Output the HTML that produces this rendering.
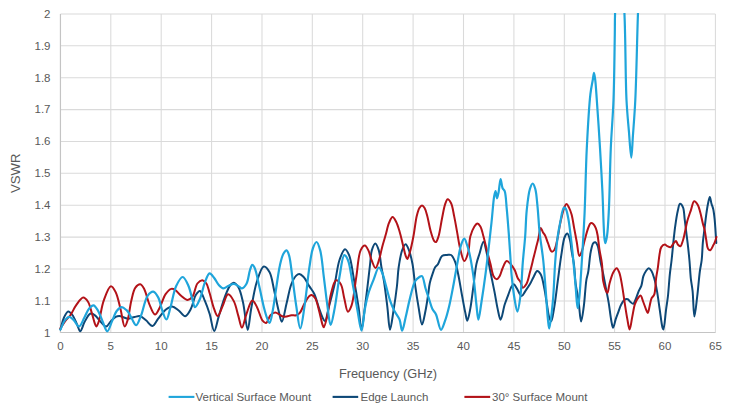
<!DOCTYPE html>
<html><head><meta charset="utf-8"><style>
html,body{margin:0;padding:0;background:#fff;width:739px;height:416px;overflow:hidden}
svg{display:block}
text{font-family:"Liberation Sans",sans-serif;fill:#595959;font-size:11.5px}
.t{font-size:12.8px}
.v{font-size:13.2px}
</style></head><body>
<svg width="739" height="416" viewBox="0 0 739 416">
<rect width="739" height="416" fill="#fff"/>
<g stroke="#DADADA" stroke-width="1.05" fill="none">
<line x1="60.44" y1="300.9" x2="715.4" y2="300.9" />
<line x1="60.44" y1="269.0" x2="715.4" y2="269.0" />
<line x1="60.44" y1="237.1" x2="715.4" y2="237.1" />
<line x1="60.44" y1="205.2" x2="715.4" y2="205.2" />
<line x1="60.44" y1="173.3" x2="715.4" y2="173.3" />
<line x1="60.44" y1="141.5" x2="715.4" y2="141.5" />
<line x1="60.44" y1="109.6" x2="715.4" y2="109.6" />
<line x1="60.44" y1="77.7" x2="715.4" y2="77.7" />
<line x1="60.44" y1="45.8" x2="715.4" y2="45.8" />
<line x1="60.44" y1="13.9" x2="715.4" y2="13.9" />
<line x1="110.8" y1="13.9" x2="110.8" y2="332.8" />
<line x1="161.2" y1="13.9" x2="161.2" y2="332.8" />
<line x1="211.6" y1="13.9" x2="211.6" y2="332.8" />
<line x1="262.0" y1="13.9" x2="262.0" y2="332.8" />
<line x1="312.3" y1="13.9" x2="312.3" y2="332.8" />
<line x1="362.7" y1="13.9" x2="362.7" y2="332.8" />
<line x1="413.1" y1="13.9" x2="413.1" y2="332.8" />
<line x1="463.5" y1="13.9" x2="463.5" y2="332.8" />
<line x1="513.9" y1="13.9" x2="513.9" y2="332.8" />
<line x1="564.3" y1="13.9" x2="564.3" y2="332.8" />
<line x1="614.6" y1="13.9" x2="614.6" y2="332.8" />
<line x1="665.0" y1="13.9" x2="665.0" y2="332.8" />
<line x1="715.4" y1="13.9" x2="715.4" y2="332.8" />
</g>
<g stroke="#C4C4C4" stroke-width="1.2" fill="none">
<line x1="60.44" y1="13.9" x2="60.44" y2="332.8"/>
<line x1="60.44" y1="332.5" x2="715.4" y2="332.5"/>
</g>
<defs><clipPath id="pc"><rect x="57.44" y="13" width="660.96" height="322.8"/></clipPath></defs>
<g fill="none" stroke-width="2.3" stroke-linejoin="round" stroke-linecap="round" clip-path="url(#pc)">
<path d="M60.40,329.50 C61.60,325.50 62.45,320.73 64.00,317.50 C65.19,315.01 66.68,311.60 68.20,311.40 C69.51,311.23 71.11,313.34 72.40,315.00 C74.21,317.33 75.81,321.77 77.20,324.70 C78.34,327.10 79.11,331.29 80.20,331.30 C81.48,331.31 82.87,325.16 84.40,322.30 C85.88,319.54 87.78,315.63 89.20,314.40 C89.87,313.82 90.35,313.58 91.10,313.60 C92.23,313.63 93.95,314.58 95.30,315.60 C96.99,316.88 98.35,319.33 100.10,321.10 C101.94,322.97 104.26,326.60 106.10,326.50 C107.84,326.40 109.25,322.74 110.90,321.10 C112.45,319.56 114.12,317.73 115.70,316.90 C116.91,316.27 118.02,315.96 119.30,316.00 C120.79,316.04 122.58,317.03 124.10,317.50 C125.47,317.92 126.53,318.67 128.00,318.70 C129.89,318.74 132.38,317.42 134.50,317.00 C136.48,316.61 138.46,315.74 140.30,316.20 C142.31,316.70 144.08,318.77 146.00,320.30 C148.14,322.00 150.50,326.19 152.50,326.00 C154.57,325.80 156.16,321.25 158.20,318.70 C160.49,315.84 162.98,311.80 165.60,309.70 C167.67,308.04 169.95,306.31 172.10,306.40 C174.32,306.50 176.57,308.92 178.70,310.50 C180.95,312.16 183.20,316.40 185.20,316.20 C187.28,316.00 189.26,311.80 190.90,308.80 C192.95,305.04 193.84,298.11 195.80,295.00 C197.04,293.04 198.61,290.69 199.90,290.90 C201.68,291.19 203.27,297.15 204.80,300.70 C206.53,304.71 208.12,309.09 209.60,313.80 C211.28,319.13 212.61,331.07 214.20,331.10 C215.69,331.13 217.17,321.36 218.80,316.10 C220.61,310.25 222.48,303.12 224.60,297.60 C226.40,292.93 228.37,287.39 230.40,285.00 C231.50,283.70 232.63,282.59 233.80,282.70 C235.27,282.84 237.08,285.11 238.40,287.30 C240.44,290.69 241.62,296.42 243.00,302.20 C244.85,309.96 246.27,329.90 247.70,329.90 C248.94,329.90 249.72,316.59 251.10,309.20 C252.70,300.62 254.36,289.21 256.90,281.50 C258.84,275.61 261.24,266.96 263.80,266.50 C265.60,266.18 268.03,269.53 269.60,272.30 C271.98,276.51 272.71,284.37 274.20,290.70 C275.78,297.41 277.34,305.79 278.80,311.50 C279.84,315.55 280.71,321.82 281.80,321.80 C283.25,321.78 285.02,309.54 286.60,303.30 C288.22,296.94 289.39,289.01 291.40,284.00 C292.80,280.51 294.52,277.21 296.20,275.60 C297.21,274.64 298.22,273.93 299.30,274.00 C300.59,274.08 302.05,275.39 303.40,276.80 C305.44,278.92 307.50,283.43 309.40,286.40 C311.07,289.01 312.77,290.75 314.20,293.70 C316.09,297.59 317.48,303.80 319.00,308.10 C320.25,311.64 321.38,315.32 322.60,317.70 C323.39,319.25 324.25,321.42 325.00,321.30 C326.34,321.08 327.27,313.16 328.60,308.10 C330.39,301.27 332.88,292.05 334.70,284.00 C336.51,276.01 337.31,266.31 339.50,260.00 C341.04,255.56 343.21,249.32 345.00,249.20 C346.39,249.11 347.91,252.37 349.10,255.20 C351.29,260.40 352.37,270.82 353.90,279.20 C355.58,288.37 357.38,299.16 358.70,308.10 C359.84,315.81 360.48,329.69 361.50,329.70 C362.54,329.71 363.89,314.63 364.90,307.30 C365.88,300.24 366.65,293.57 367.50,286.50 C368.38,279.15 369.31,270.56 370.10,264.00 C370.71,258.90 370.68,254.11 371.80,250.40 C372.65,247.60 374.13,243.40 375.30,243.40 C376.47,243.40 377.87,247.48 378.80,250.40 C380.17,254.68 380.50,261.68 381.40,267.00 C382.24,271.95 383.14,275.81 384.00,281.30 C385.15,288.67 386.37,298.95 387.40,307.30 C388.36,315.04 388.93,329.66 390.00,329.70 C390.99,329.73 392.41,317.43 393.50,310.70 C394.73,303.13 396.01,294.14 396.90,286.50 C397.70,279.66 397.78,273.21 398.70,267.00 C399.56,261.22 400.55,254.49 402.10,250.40 C403.10,247.77 404.45,244.29 405.60,244.30 C406.75,244.31 408.00,247.89 409.00,250.40 C410.42,253.97 411.54,258.95 412.50,264.00 C413.67,270.17 414.11,277.74 415.10,284.80 C416.13,292.16 417.37,300.30 418.60,307.30 C419.68,313.46 420.78,324.57 422.00,324.60 C423.10,324.63 424.50,315.49 425.50,310.70 C426.55,305.67 427.35,299.97 428.10,295.10 C428.76,290.82 428.99,286.66 429.80,283.00 C430.49,279.86 431.49,277.09 432.40,274.40 C433.23,271.96 433.90,269.32 435.00,267.50 C435.86,266.07 437.02,265.56 438.00,264.10 C439.38,262.04 440.15,257.41 442.00,256.00 C443.40,254.93 445.50,255.16 447.10,255.00 C448.51,254.86 449.92,254.32 451.10,255.00 C452.79,255.97 454.08,259.33 455.20,262.10 C456.58,265.52 457.20,269.54 458.20,274.20 C459.54,280.47 460.93,289.58 462.20,296.40 C463.28,302.23 464.32,308.14 465.30,312.60 C466.00,315.77 466.57,320.70 467.30,320.70 C468.20,320.70 469.40,313.27 470.30,308.60 C471.51,302.32 472.38,293.73 473.40,286.30 C474.42,278.89 475.13,270.02 476.40,264.10 C477.27,260.04 478.29,257.52 479.40,254.00 C480.63,250.09 482.27,241.68 483.50,241.70 C484.62,241.72 485.52,247.97 486.50,252.00 C487.86,257.59 489.15,265.47 490.50,272.20 C491.85,278.93 493.36,286.03 494.60,292.40 C495.70,298.09 496.49,303.73 497.60,308.60 C498.53,312.67 499.52,319.70 500.60,319.70 C501.86,319.70 503.34,308.75 504.70,304.50 C505.71,301.35 506.61,299.24 507.70,296.40 C508.92,293.21 510.35,288.30 511.70,286.30 C512.40,285.27 513.08,284.24 513.80,284.30 C514.76,284.39 515.72,286.80 516.80,288.40 C518.25,290.54 520.07,296.03 521.60,296.10 C522.85,296.15 523.94,293.08 525.20,291.30 C526.71,289.16 528.58,286.54 530.00,284.10 C531.37,281.74 532.35,279.17 533.60,276.90 C534.76,274.79 535.89,271.06 537.20,270.90 C538.32,270.76 539.78,272.70 540.80,274.50 C542.54,277.57 543.40,284.08 544.40,288.90 C545.39,293.68 545.98,298.50 546.80,303.30 C547.62,308.10 548.23,314.55 549.30,317.70 C549.87,319.36 550.60,321.38 551.20,321.30 C552.29,321.15 553.18,313.28 554.10,308.10 C555.39,300.83 556.50,290.51 557.70,281.70 C558.90,272.88 560.01,263.19 561.30,255.20 C562.37,248.55 563.11,240.56 564.70,237.00 C565.46,235.29 566.51,233.50 567.30,233.60 C568.28,233.72 569.22,237.23 569.90,239.60 C570.80,242.73 570.96,247.00 571.60,250.90 C572.29,255.11 573.26,259.15 573.90,264.00 C574.69,269.97 574.87,277.88 575.70,284.10 C576.42,289.54 577.57,293.74 578.40,299.30 C579.40,306.01 580.10,321.57 581.10,321.60 C581.93,321.62 583.00,312.19 583.80,306.40 C584.85,298.78 585.38,286.01 586.40,279.80 C586.96,276.40 587.63,275.22 588.20,272.00 C589.11,266.89 589.60,257.30 590.70,252.00 C591.44,248.40 592.07,244.49 593.30,243.10 C593.91,242.41 594.77,242.00 595.40,242.20 C596.25,242.47 596.94,244.02 597.60,245.70 C598.91,249.07 599.58,256.95 600.60,262.00 C601.49,266.42 602.43,270.11 603.30,274.40 C604.23,278.99 605.10,283.94 606.00,288.70 C606.90,293.44 607.86,297.89 608.70,302.90 C609.64,308.49 610.39,316.12 611.30,320.70 C611.88,323.62 612.41,327.78 613.10,327.80 C613.88,327.82 614.87,321.69 615.80,318.90 C616.64,316.39 617.52,314.16 618.40,311.80 C619.28,309.43 619.98,306.81 621.10,304.70 C622.12,302.79 623.36,300.38 624.70,299.60 C625.63,299.06 626.78,298.98 627.70,299.30 C628.74,299.66 629.54,301.23 630.50,302.00 C631.38,302.71 632.39,304.01 633.20,303.80 C634.31,303.51 635.13,300.36 636.00,298.40 C636.98,296.18 637.74,293.34 638.70,291.10 C639.55,289.11 640.67,287.72 641.40,285.60 C642.30,282.97 642.40,279.01 643.30,276.40 C644.03,274.31 644.98,272.45 646.00,271.00 C646.82,269.84 647.79,268.21 648.70,268.20 C649.62,268.19 650.69,269.73 651.50,271.00 C652.64,272.78 653.38,275.49 654.20,278.30 C655.27,281.94 656.15,286.44 657.00,291.10 C658.01,296.62 658.78,303.23 659.70,309.30 C660.62,315.39 661.58,324.72 662.50,327.60 C662.80,328.55 663.10,329.45 663.40,329.40 C664.34,329.24 665.28,315.25 666.10,309.30 C666.75,304.55 667.35,301.34 667.90,296.50 C668.62,290.18 669.11,281.16 669.80,274.60 C670.36,269.24 671.03,265.13 671.60,260.00 C672.24,254.29 672.78,247.71 673.40,241.90 C673.98,236.50 674.47,231.48 675.20,226.30 C675.93,221.12 676.81,214.93 677.80,210.80 C678.48,207.98 678.97,204.01 680.00,203.80 C680.81,203.63 682.25,205.63 683.00,207.30 C684.22,210.01 684.15,215.22 684.70,219.40 C685.29,223.87 685.83,228.68 686.40,233.30 C686.97,237.91 687.58,242.49 688.10,247.10 C688.62,251.72 689.07,256.11 689.50,261.00 C689.98,266.45 690.23,272.98 690.80,278.30 C691.30,282.90 692.07,286.09 692.60,291.10 C693.34,298.14 693.56,316.57 694.40,316.60 C695.15,316.63 696.33,303.61 697.20,296.50 C698.18,288.51 698.99,277.73 699.90,271.00 C700.50,266.56 701.23,264.13 701.70,260.00 C702.30,254.73 702.37,247.52 702.90,241.90 C703.37,236.98 704.03,232.71 704.60,228.10 C705.17,223.48 705.69,218.49 706.30,214.20 C706.83,210.48 707.34,206.89 708.00,203.80 C708.54,201.28 709.22,197.00 709.80,197.00 C710.38,197.00 710.89,201.70 711.50,203.80 C712.04,205.66 712.73,206.97 713.20,209.00 C713.84,211.75 714.17,214.87 714.60,218.90 C715.26,225.17 715.73,234.97 716.30,243.00" stroke="#0D4877" stroke-width="2.0" />
<path d="M60.40,328.30 C62.00,325.90 63.48,323.35 65.20,321.10 C66.86,318.93 68.81,317.37 70.50,315.00 C72.50,312.20 74.02,308.15 76.20,305.20 C78.28,302.38 81.03,297.72 83.20,297.60 C84.90,297.51 86.69,299.85 88.00,301.80 C89.75,304.41 90.51,308.89 91.70,312.60 C92.95,316.51 94.27,322.49 95.30,324.70 C95.73,325.61 96.07,326.54 96.50,326.50 C97.21,326.44 98.08,323.53 98.90,321.10 C100.44,316.51 101.49,306.72 103.70,300.60 C105.63,295.25 108.55,286.45 110.90,286.20 C112.52,286.03 114.31,289.52 115.70,292.20 C117.79,296.25 119.01,303.33 120.50,309.00 C122.01,314.76 123.19,326.36 124.70,326.50 C125.66,326.59 126.80,322.74 127.70,319.90 C129.17,315.23 129.87,306.45 131.30,300.70 C132.50,295.88 133.36,290.34 135.40,287.60 C136.74,285.80 138.84,284.08 140.30,284.30 C141.81,284.52 143.08,286.98 144.30,289.20 C146.21,292.67 147.28,299.46 149.20,303.90 C150.91,307.83 153.08,314.52 155.00,314.60 C156.64,314.67 158.33,310.10 159.90,307.20 C161.90,303.53 163.30,297.31 165.60,294.10 C167.29,291.74 169.44,289.33 171.30,288.90 C172.69,288.58 174.03,289.29 175.40,290.10 C177.29,291.22 179.04,294.15 181.10,295.80 C183.11,297.41 185.60,299.93 187.60,299.90 C189.36,299.87 191.09,298.38 192.50,296.60 C194.67,293.85 195.23,286.22 197.40,283.50 C198.81,281.74 200.76,280.24 202.30,280.30 C203.75,280.36 205.28,281.92 206.40,283.50 C207.95,285.69 208.48,289.40 209.60,293.00 C211.05,297.67 212.55,305.00 214.20,309.20 C215.32,312.05 216.46,316.10 217.70,316.10 C219.13,316.10 220.71,310.23 222.30,306.90 C224.15,303.02 225.92,294.49 228.10,294.20 C229.84,293.97 232.22,298.16 233.80,301.10 C235.89,304.99 236.97,311.43 238.40,316.10 C239.65,320.19 240.63,327.58 241.90,327.60 C243.30,327.62 244.77,318.33 246.50,313.80 C248.23,309.26 250.28,300.61 252.30,300.40 C253.79,300.25 255.43,304.23 256.90,306.90 C258.92,310.56 260.50,318.16 262.60,320.70 C263.71,322.04 264.99,323.27 266.10,323.00 C267.76,322.60 268.86,316.64 270.70,314.90 C272.07,313.60 273.77,312.60 275.30,312.60 C276.83,312.60 278.52,314.20 279.90,314.90 C281.04,315.48 281.89,316.23 283.00,316.50 C284.12,316.77 285.32,316.66 286.60,316.50 C288.10,316.32 289.79,315.50 291.40,315.30 C292.99,315.10 294.77,315.73 296.20,315.30 C297.56,314.89 298.67,314.18 299.80,312.90 C301.58,310.89 302.90,306.22 304.60,303.30 C306.12,300.68 307.90,297.42 309.40,296.10 C310.23,295.37 310.97,294.77 311.80,294.90 C312.94,295.09 314.37,296.77 315.40,298.50 C317.02,301.21 317.85,306.30 319.00,310.50 C320.26,315.07 321.58,322.15 322.60,324.90 C323.03,326.07 323.35,327.34 323.80,327.30 C324.77,327.22 326.33,319.92 327.40,315.30 C328.82,309.19 329.34,299.96 331.00,293.70 C332.34,288.66 333.77,281.03 335.90,280.40 C337.29,279.99 339.43,282.08 340.70,284.00 C342.71,287.03 343.07,293.79 344.30,298.50 C345.47,303.01 346.42,311.50 347.90,311.70 C348.96,311.85 350.44,308.59 351.50,305.70 C353.67,299.79 354.75,286.22 356.30,276.80 C357.78,267.80 358.18,255.52 360.60,250.40 C361.79,247.87 363.58,245.43 364.90,245.50 C366.17,245.56 367.37,248.37 368.40,250.40 C369.78,253.12 370.51,257.60 371.80,260.70 C372.92,263.39 374.33,268.03 375.50,268.00 C376.66,267.97 377.81,263.57 378.80,260.70 C380.12,256.88 381.01,251.34 382.20,246.90 C383.32,242.72 384.55,238.84 385.70,234.80 C386.85,230.77 387.69,225.89 389.10,222.70 C390.12,220.39 391.40,217.15 392.60,217.10 C393.73,217.05 395.06,219.87 396.10,221.80 C397.46,224.34 398.44,227.80 399.50,231.30 C400.77,235.47 401.92,240.90 403.00,245.20 C403.93,248.92 404.68,253.11 405.60,255.60 C406.15,257.08 406.71,259.03 407.30,259.00 C408.12,258.96 409.06,254.90 409.90,252.10 C411.13,247.98 412.32,242.08 413.40,236.50 C414.64,230.10 415.51,221.01 416.80,215.80 C417.61,212.54 418.28,209.82 419.40,208.00 C420.15,206.78 421.13,205.40 422.00,205.40 C422.87,205.40 423.85,206.78 424.60,208.00 C425.72,209.82 426.34,212.73 427.20,215.80 C428.39,220.06 429.39,226.80 430.70,231.30 C431.74,234.89 432.87,239.16 434.10,240.80 C434.68,241.57 435.33,242.25 435.90,242.10 C436.85,241.85 437.70,238.96 438.50,236.50 C439.87,232.26 440.84,224.14 442.00,218.50 C443.04,213.48 443.85,207.77 445.10,204.30 C445.88,202.14 446.68,199.42 447.70,199.30 C448.69,199.19 450.15,201.43 451.10,203.30 C452.61,206.29 453.23,211.79 454.20,216.40 C455.28,221.50 456.20,227.20 457.20,232.60 C458.20,238.00 458.91,243.81 460.20,248.80 C461.34,253.22 462.85,261.03 464.30,261.10 C465.57,261.16 467.32,255.51 468.30,252.00 C469.52,247.61 469.11,241.13 470.30,236.60 C471.30,232.81 472.89,228.78 474.40,226.50 C475.34,225.08 476.40,223.50 477.40,223.50 C478.40,223.50 479.53,225.06 480.40,226.50 C481.77,228.77 482.52,233.06 483.50,236.60 C484.57,240.46 485.41,244.51 486.50,248.80 C487.72,253.62 489.26,259.30 490.50,264.10 C491.60,268.37 492.15,273.60 493.60,276.20 C494.45,277.73 495.60,279.30 496.60,279.30 C497.60,279.30 498.72,277.59 499.60,276.20 C500.84,274.24 501.40,270.74 502.60,268.20 C503.78,265.71 505.14,261.42 506.70,261.10 C507.92,260.85 509.46,262.79 510.70,264.10 C512.20,265.68 513.65,267.95 514.80,270.20 C516.05,272.64 516.66,276.24 517.80,278.30 C518.60,279.75 519.63,280.34 520.40,281.70 C521.35,283.37 521.71,287.48 522.80,287.70 C523.77,287.90 525.37,285.83 526.40,284.10 C528.02,281.39 528.85,276.30 530.00,272.10 C531.26,267.51 532.52,261.94 533.60,257.60 C534.48,254.07 535.20,251.20 536.00,248.00 C536.80,244.80 537.63,241.68 538.40,238.40 C539.20,234.98 539.74,228.02 540.70,227.90 C541.35,227.82 542.12,230.97 542.90,232.30 C543.59,233.48 544.39,234.15 545.10,235.50 C546.13,237.47 546.94,240.59 548.00,243.20 C549.12,245.95 550.30,251.16 551.70,251.60 C552.51,251.85 553.55,250.98 554.30,250.00 C555.68,248.19 556.29,243.85 557.20,240.00 C558.40,234.90 559.22,227.70 560.50,222.00 C561.68,216.75 563.12,209.99 564.50,207.00 C565.16,205.58 565.79,204.11 566.50,204.10 C567.28,204.09 568.24,206.18 569.00,207.60 C569.99,209.46 570.83,211.76 571.60,214.50 C572.66,218.29 573.33,223.78 574.20,228.40 C575.07,233.01 575.93,237.59 576.80,242.20 C577.67,246.82 578.24,255.94 579.40,256.10 C580.15,256.20 581.23,252.98 582.00,250.90 C583.05,248.07 583.63,244.09 584.60,240.50 C585.65,236.61 586.87,231.55 588.10,228.40 C588.94,226.26 589.60,223.67 590.70,223.20 C591.46,222.88 592.53,223.39 593.30,224.00 C594.35,224.83 595.21,226.71 595.90,228.40 C596.71,230.39 597.09,232.59 597.60,235.30 C598.31,239.09 598.69,244.42 599.40,249.10 C600.14,253.98 601.36,258.81 602.00,264.00 C602.69,269.61 602.22,276.43 603.30,281.60 C604.19,285.88 606.22,293.06 607.30,293.00 C608.28,292.95 608.67,286.58 609.60,283.30 C610.58,279.82 611.64,275.39 613.10,272.70 C614.15,270.77 615.65,268.12 616.70,268.20 C617.70,268.28 618.55,270.75 619.30,272.70 C620.48,275.74 621.17,280.58 622.00,285.10 C622.99,290.48 623.79,297.13 624.70,302.90 C625.56,308.38 626.39,314.14 627.30,318.90 C628.04,322.78 628.81,329.40 629.60,329.40 C630.47,329.40 631.40,320.87 632.30,316.60 C633.20,312.33 633.82,307.10 635.00,303.80 C635.80,301.55 636.76,299.85 637.80,298.40 C638.63,297.24 639.69,295.45 640.50,295.60 C641.59,295.80 642.41,299.78 643.30,302.00 C644.24,304.34 645.14,307.29 646.00,309.30 C646.62,310.76 647.26,313.05 647.80,313.00 C648.54,312.93 649.08,308.14 649.70,305.70 C650.32,303.27 650.59,300.35 651.50,298.40 C652.21,296.87 653.50,296.50 654.20,294.70 C655.54,291.28 655.41,283.22 656.10,278.30 C656.66,274.26 657.34,271.15 657.90,267.30 C658.51,263.08 658.91,257.70 659.60,254.00 C660.10,251.31 660.22,248.73 661.30,247.10 C662.15,245.82 663.71,244.53 664.80,244.50 C665.72,244.47 666.44,245.77 667.40,246.20 C668.42,246.66 669.83,247.44 670.80,247.10 C671.87,246.72 672.49,244.65 673.40,243.60 C674.23,242.64 675.27,240.89 676.00,241.00 C676.75,241.12 677.00,243.61 677.80,244.50 C678.51,245.29 679.64,246.43 680.40,246.20 C681.50,245.87 682.29,242.30 683.00,240.20 C683.74,238.01 684.10,235.93 684.70,233.30 C685.50,229.81 686.25,224.97 687.30,221.10 C688.28,217.49 689.53,214.16 690.70,210.80 C691.83,207.53 692.73,201.52 694.20,201.20 C695.22,200.97 696.75,203.16 697.70,204.70 C698.93,206.68 699.49,209.64 700.30,212.50 C701.25,215.88 702.09,220.54 702.90,223.70 C703.50,226.05 704.09,227.48 704.60,229.80 C705.26,232.79 705.70,236.90 706.30,240.20 C706.84,243.21 706.91,247.24 708.00,248.80 C708.61,249.67 709.56,250.38 710.30,250.20 C711.43,249.92 712.74,246.12 713.50,244.80 C713.93,244.04 714.15,243.80 714.50,243.00 C715.11,241.60 715.83,239.00 716.50,237.00" stroke="#B31218" stroke-width="2.0" />
<path d="M60.40,329.50 C62.00,326.30 63.35,322.06 65.20,319.90 C66.48,318.40 68.00,316.90 69.40,316.90 C70.80,316.90 72.20,318.59 73.60,319.90 C75.40,321.59 77.28,326.62 79.00,326.50 C80.90,326.36 82.69,320.53 84.40,317.50 C86.09,314.50 87.36,310.48 89.20,308.40 C90.51,306.91 92.14,305.23 93.50,305.40 C94.99,305.58 96.40,308.15 97.70,310.20 C99.48,313.00 100.88,317.54 102.50,321.10 C104.08,324.57 105.70,331.30 107.30,331.30 C108.90,331.30 110.50,324.51 112.10,321.10 C113.70,317.68 114.95,313.20 116.90,310.80 C118.32,309.06 120.08,307.27 121.70,307.20 C123.28,307.13 125.30,309.17 126.50,310.20 C127.38,310.95 127.80,311.49 128.50,312.50 C129.59,314.07 130.72,316.89 132.00,319.00 C133.29,321.12 134.82,325.29 136.20,325.20 C137.87,325.09 139.49,319.30 141.10,315.40 C143.31,310.05 144.74,299.69 147.60,295.80 C149.27,293.53 151.56,291.49 153.30,291.70 C155.10,291.91 156.83,294.93 158.20,297.40 C160.05,300.73 160.80,306.58 162.30,310.50 C163.57,313.82 165.11,319.57 166.40,319.50 C167.87,319.42 169.09,311.88 170.50,307.20 C172.33,301.11 173.63,291.40 176.20,286.00 C178.03,282.16 180.63,276.95 182.70,277.00 C184.73,277.05 186.93,282.54 188.50,286.00 C190.32,290.02 191.28,296.02 192.50,299.90 C193.39,302.73 193.87,307.08 195.00,307.20 C196.26,307.33 198.44,302.31 199.90,299.00 C201.85,294.59 202.94,287.30 204.80,282.70 C206.26,279.09 207.81,273.68 209.60,273.40 C211.01,273.18 212.75,276.22 214.20,278.00 C215.84,280.02 217.09,283.19 218.80,285.00 C220.21,286.49 221.81,288.26 223.40,288.40 C224.92,288.54 226.44,286.84 228.10,286.10 C229.89,285.30 232.02,283.73 233.80,283.80 C235.43,283.87 236.99,285.29 238.40,286.10 C239.67,286.83 240.71,288.52 241.90,288.40 C243.39,288.25 245.27,285.97 246.50,283.80 C248.32,280.59 248.80,273.44 250.00,270.00 C250.75,267.84 251.43,265.02 252.30,264.90 C253.00,264.81 253.86,266.24 254.60,267.70 C256.29,271.05 257.71,279.77 259.20,286.10 C260.78,292.81 262.28,301.01 263.80,306.90 C264.94,311.32 266.02,315.47 267.20,318.40 C267.98,320.33 268.84,323.09 269.60,323.00 C270.85,322.85 271.96,314.42 273.00,309.20 C274.33,302.51 275.32,293.59 276.50,286.10 C277.62,279.01 278.54,271.27 279.90,265.40 C280.93,260.94 281.89,256.41 283.40,253.80 C284.34,252.18 285.69,250.27 286.60,250.40 C287.58,250.54 288.28,252.91 289.00,255.20 C290.54,260.07 291.43,271.00 292.60,279.20 C293.83,287.81 294.86,297.21 296.20,305.70 C297.45,313.60 298.90,328.49 300.30,328.50 C301.70,328.51 303.25,314.31 304.60,305.70 C306.34,294.56 307.75,277.80 309.40,267.20 C310.57,259.68 311.30,252.49 313.00,248.00 C314.02,245.31 315.47,241.92 316.60,242.00 C317.89,242.09 319.18,246.73 320.20,250.40 C321.94,256.67 322.63,267.80 323.80,276.80 C325.03,286.21 326.14,297.06 327.40,305.70 C328.43,312.76 329.34,324.85 330.60,324.90 C331.79,324.94 333.41,314.60 334.70,308.10 C336.44,299.31 337.73,286.24 339.50,276.80 C340.98,268.91 342.24,255.64 344.30,255.20 C345.37,254.97 346.84,257.62 347.90,260.00 C350.05,264.81 351.14,275.79 352.70,284.00 C354.34,292.61 355.94,302.28 357.50,310.50 C358.86,317.67 360.28,330.62 361.50,330.60 C362.76,330.57 363.64,315.60 364.90,309.00 C365.98,303.36 366.91,298.39 368.40,293.40 C369.83,288.61 371.81,284.03 373.60,279.60 C375.29,275.41 377.12,267.65 378.80,267.50 C379.96,267.40 381.20,270.51 382.20,272.70 C383.63,275.81 384.49,280.51 385.70,284.80 C387.07,289.64 388.41,295.69 390.00,300.30 C391.33,304.16 392.66,307.44 394.30,310.70 C395.85,313.79 398.21,316.21 399.50,319.40 C400.87,322.80 401.13,330.58 402.10,330.60 C403.15,330.62 404.42,322.36 405.60,317.60 C407.02,311.88 408.28,304.76 409.90,298.60 C411.46,292.67 412.90,284.98 415.10,281.30 C416.38,279.16 418.05,277.84 419.40,277.00 C420.31,276.43 421.24,275.70 422.00,276.10 C423.64,276.95 424.31,284.33 425.50,288.20 C426.61,291.81 427.75,295.14 428.90,298.60 C430.05,302.07 431.02,306.20 432.40,309.00 C433.44,311.12 434.78,311.90 435.90,314.20 C437.72,317.92 439.27,329.71 441.00,329.80 C442.35,329.87 443.86,324.12 445.10,320.70 C446.61,316.54 447.85,311.67 449.10,306.50 C450.58,300.38 451.88,293.20 453.20,286.30 C454.58,279.08 455.82,271.24 457.20,264.10 C458.49,257.41 459.59,249.25 461.20,244.70 C462.14,242.05 463.31,238.66 464.30,238.70 C465.35,238.74 466.46,243.33 467.30,245.70 C468.12,248.03 468.60,249.72 469.30,252.80 C470.56,258.32 472.25,268.01 473.40,276.20 C474.66,285.16 475.45,296.53 476.40,304.50 C477.10,310.35 477.60,319.68 478.40,319.70 C479.25,319.72 480.37,308.95 481.40,302.50 C482.72,294.24 484.08,285.06 485.50,274.20 C487.41,259.55 489.93,236.85 491.50,222.50 C492.62,212.27 493.19,201.50 494.20,196.20 C494.65,193.85 495.17,191.18 495.60,191.20 C496.11,191.22 496.48,198.28 497.00,198.30 C497.49,198.32 498.10,194.63 498.60,192.20 C499.33,188.67 499.86,179.12 500.60,179.10 C501.22,179.08 501.66,186.05 502.60,188.20 C503.19,189.55 504.12,189.68 504.70,191.20 C505.95,194.50 506.08,202.17 506.70,208.40 C507.43,215.77 508.10,224.60 508.70,232.60 C509.29,240.46 509.78,248.49 510.30,256.00 C510.78,262.98 511.01,269.17 511.70,276.20 C512.46,283.94 513.63,293.99 514.80,300.50 C515.60,304.94 516.54,311.62 517.40,311.60 C518.41,311.58 519.58,302.29 520.40,296.10 C521.59,287.05 521.95,272.94 522.80,262.40 C523.56,253.06 524.55,244.72 525.20,236.00 C525.84,227.46 525.86,218.71 526.70,210.60 C527.48,203.09 528.38,193.75 529.90,189.00 C530.71,186.47 531.80,183.49 532.70,183.50 C533.60,183.51 534.59,186.58 535.30,189.00 C536.49,193.09 536.84,199.94 537.50,206.30 C538.31,214.08 538.67,223.51 539.60,232.30 C540.56,241.40 542.21,250.66 543.20,260.00 C544.21,269.52 544.81,279.08 545.60,288.90 C546.42,299.10 547.18,313.01 548.00,320.10 C548.43,323.80 548.78,328.51 549.30,328.50 C550.23,328.49 551.95,310.91 552.90,300.90 C554.02,289.06 554.32,273.40 555.20,262.00 C555.89,253.03 556.52,245.25 557.50,238.00 C558.32,231.94 559.28,226.66 560.40,221.40 C561.43,216.57 562.46,208.24 563.90,207.60 C564.43,207.36 565.09,207.86 565.60,208.50 C566.75,209.94 567.44,214.26 568.20,218.00 C569.27,223.22 569.98,230.27 570.80,237.00 C571.73,244.60 572.59,252.95 573.40,261.30 C574.26,270.16 575.05,280.34 575.80,288.70 C576.43,295.75 576.90,308.18 577.60,308.20 C578.11,308.22 578.80,301.89 579.30,297.60 C580.06,291.06 580.52,281.30 581.10,272.70 C581.72,263.47 582.33,253.77 582.90,244.00 C583.50,233.82 584.06,225.08 584.60,212.80 C585.38,195.11 585.76,168.60 586.80,148.00 C587.75,129.20 588.98,106.32 590.40,94.10 C591.14,87.75 592.13,83.61 592.80,79.70 C593.26,77.01 593.60,72.90 594.00,72.90 C594.40,72.90 594.85,77.00 595.20,79.70 C595.71,83.60 595.92,87.77 596.40,94.10 C597.32,106.34 598.96,131.01 600.00,148.00 C600.93,163.22 601.66,176.53 602.40,191.30 C603.17,206.76 603.58,231.49 604.50,238.80 C604.78,241.02 605.05,243.10 605.40,243.10 C605.87,243.10 606.62,238.68 607.10,235.30 C607.97,229.19 608.37,219.80 608.90,209.30 C609.71,193.19 609.96,167.18 610.80,148.00 C611.54,131.02 612.84,117.28 613.50,100.00 C614.27,79.75 614.53,50.01 614.80,34.00 C614.95,24.84 614.75,21.71 615.10,12.40 C615.74,-4.66 617.95,-59.99 619.50,-60.00 C621.05,-60.01 623.24,-12.90 624.40,12.40 C625.67,40.20 625.40,78.18 626.50,100.00 C627.16,113.04 628.06,121.23 628.90,131.20 C629.67,140.40 630.61,157.71 631.30,157.70 C631.92,157.69 632.33,144.14 632.90,136.00 C633.64,125.51 634.59,114.63 635.30,100.00 C636.41,77.19 637.00,40.21 638.00,12.40 C638.91,-12.88 640.00,-35.87 641.00,-60.00" stroke="#1FA5DB" stroke-width="2.2" />
</g>
<text x="50.5" y="336.6" text-anchor="end">1</text>
<text x="50.5" y="304.7" text-anchor="end">1.1</text>
<text x="50.5" y="272.8" text-anchor="end">1.2</text>
<text x="50.5" y="240.9" text-anchor="end">1.3</text>
<text x="50.5" y="209.0" text-anchor="end">1.4</text>
<text x="50.5" y="177.2" text-anchor="end">1.5</text>
<text x="50.5" y="145.3" text-anchor="end">1.6</text>
<text x="50.5" y="113.4" text-anchor="end">1.7</text>
<text x="50.5" y="81.5" text-anchor="end">1.8</text>
<text x="50.5" y="49.6" text-anchor="end">1.9</text>
<text x="50.5" y="17.7" text-anchor="end">2</text>
<text x="60.4" y="349.8" text-anchor="middle">0</text>
<text x="110.8" y="349.8" text-anchor="middle">5</text>
<text x="161.2" y="349.8" text-anchor="middle">10</text>
<text x="211.6" y="349.8" text-anchor="middle">15</text>
<text x="262.0" y="349.8" text-anchor="middle">20</text>
<text x="312.3" y="349.8" text-anchor="middle">25</text>
<text x="362.7" y="349.8" text-anchor="middle">30</text>
<text x="413.1" y="349.8" text-anchor="middle">35</text>
<text x="463.5" y="349.8" text-anchor="middle">40</text>
<text x="513.9" y="349.8" text-anchor="middle">45</text>
<text x="564.3" y="349.8" text-anchor="middle">50</text>
<text x="614.6" y="349.8" text-anchor="middle">55</text>
<text x="665.0" y="349.8" text-anchor="middle">60</text>
<text x="715.4" y="349.8" text-anchor="middle">65</text>
<text class="v" x="15.4" y="173.3" text-anchor="middle" dominant-baseline="central" transform="rotate(-90 15.4 173.3)">VSWR</text>
<text class="t" x="388" y="378.2" text-anchor="middle">Frequency (GHz)</text>
<g stroke-width="2.1">
<line x1="168.6" y1="396.9" x2="194.4" y2="396.9" stroke="#1FA5DB"/>
<line x1="332.6" y1="396.9" x2="358.2" y2="396.9" stroke="#0D4877"/>
<line x1="464.4" y1="396.9" x2="490.2" y2="396.9" stroke="#B31218"/>
</g>
<text x="195.5" y="400.8">Vertical Surface Mount</text>
<text x="360.5" y="400.8">Edge Launch</text>
<text x="492" y="400.8">30° Surface Mount</text>
</svg>
</body></html>
